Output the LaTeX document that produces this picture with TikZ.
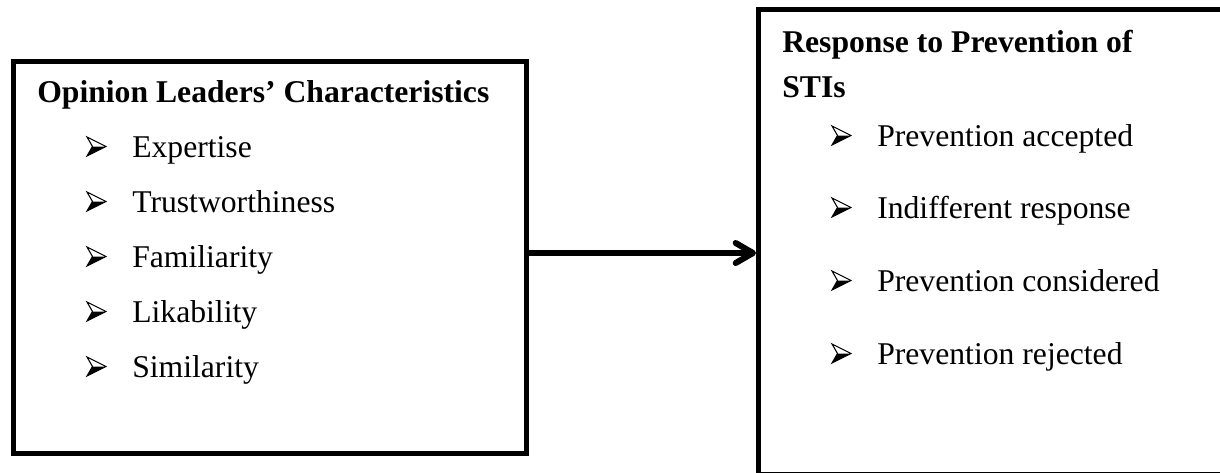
\documentclass[tikz,border=0pt]{standalone}
\usepackage{fontspec}
\setmainfont{Liberation Serif}
\usetikzlibrary{arrows.meta}

\tikzset{
  frame/.style={draw=black, line width=3.75pt, line join=miter, inner sep=0pt, fill=none},
  edge/.style={draw=black, line width=3.75pt, line join=miter},
  head/.style={anchor=base west, inner sep=0pt, font=\fontsize{23.75pt}{33.75pt}\selectfont\bfseries},
  item/.style={anchor=base west, inner sep=0pt, font=\fontsize{23.75pt}{28pt}\selectfont},
  link/.style={draw=black, line width=4.5pt,
    -{Straight Barb[length=13pt, width=15pt, line cap=round, line join=round]}},
  bul/.pic={
    % arrowhead bullet: outlined upper half, solid lower half
    \fill[black] (0,-1) -- (19,-10.5) -- (5.5,-10.5) -- cycle;
    \draw[black, line width=0.8pt, line join=miter]
      (0,-20) -- (19,-10.5) -- (0,-1) -- (5.5,-10.5) -- cycle;
  }
}

\begin{document}
\begin{tikzpicture}[x=0.75pt, y=-0.75pt]
\useasboundingbox (0,0) rectangle (1220,472);

% left box: characteristics
\node[frame, minimum width=513*0.75pt, minimum height=392*0.75pt] (lbox) at (270,257.5) {};
\node[head] (lhead) at (37,102) {Opinion Leaders’ Characteristics};
\node[item] (l1) at (132,157) {Expertise};
\node[item] (l2) at (132,212) {Trustworthiness};
\node[item] (l3) at (132,267) {Familiarity};
\node[item] (l4) at (132,322) {Likability};
\node[item] (l5) at (132,377) {Similarity};
\foreach \n in {l1,l2,l3,l4,l5}
  \pic at ([xshift=-45*0.75pt]\n.base west) {bul};

% right box: response (runs past the right and lower edges of the page)
\node[inner sep=0pt, outer sep=1.875pt, minimum width=481.5*0.75pt, minimum height=464.5*0.75pt] (rbox) at (999.25,241.75) {};
\draw[edge] ([xshift=-1.875pt,yshift=-1.875pt]rbox.north east)
  -- ([xshift=1.875pt,yshift=-1.875pt]rbox.north west)
  -- ([xshift=1.875pt,yshift=1.875pt]rbox.south west)
  -- ([xshift=-1.875pt,yshift=1.875pt]rbox.south east);
\node[head, align=left] (rhead) at (782,97) {Response to Prevention of\\STIs};
\node[item] (r1) at (877,146) {Prevention accepted};
\node[item] (r2) at (877,218) {Indifferent response};
\node[item] (r3) at (877,291) {Prevention considered};
\node[item] (r4) at (877,364) {Prevention rejected};
\foreach \n in {r1,r2,r3,r4}
  \pic at ([xshift=-45*0.75pt]\n.base west) {bul};

% connector
\coordinate (a0) at (lbox.east |- 0,253);
\coordinate (a1) at (rbox.west |- 0,253);
\draw[link] (a0) -- (a1);
\end{tikzpicture}
\end{document}
